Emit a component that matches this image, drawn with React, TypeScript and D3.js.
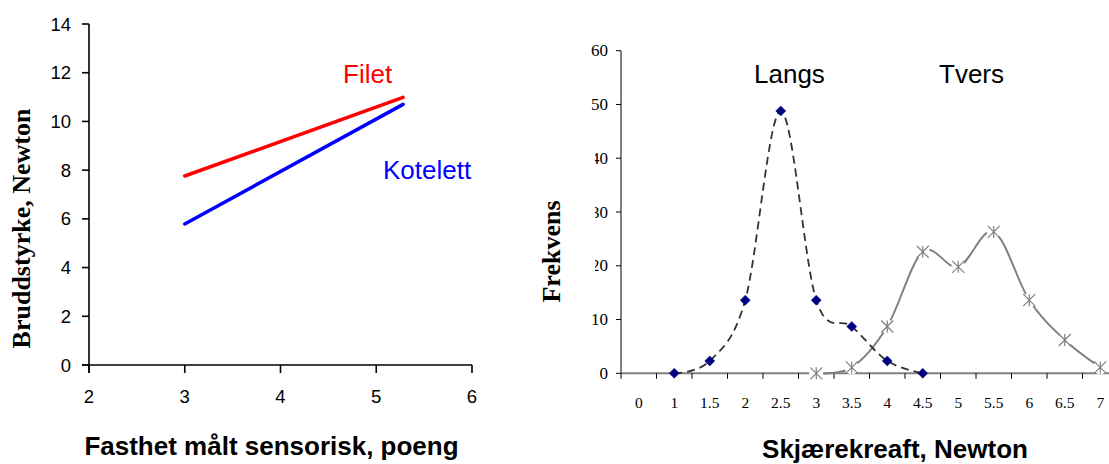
import React from "react";
import * as d3 from "d3";

// ---------- Left chart data ----------
const leftXTicks = [2, 3, 4, 5, 6];
const leftYTicks = [0, 2, 4, 6, 8, 10, 12, 14];
const filetX = [3, 5.28];
const filetY = [7.76, 10.99];
const kotelettX = [3, 5.28];
const kotelettY = [5.79, 10.7];

// ---------- Right chart data ----------
const categories = ["0", "1", "1.5", "2", "2.5", "3", "3.5", "4", "4.5", "5", "5.5", "6", "6.5", "7"];
const rightYTicks = [0, 10, 20, 30, 40, 50, 60];
const langsCats = ["1", "1.5", "2", "2.5", "3", "3.5", "4", "4.5"];
const langsVals = [0, 2.3, 13.6, 48.8, 13.6, 8.7, 2.3, 0];
const tversCats = ["3", "3.5", "4", "4.5", "5", "5.5", "6", "6.5", "7"];
const tversVals = [0, 1.1, 8.7, 22.6, 19.8, 26.3, 13.6, 6.2, 1.1];

const SANS = "'Liberation Sans', Arial, sans-serif";
const SERIF = "'Liberation Serif', 'Times New Roman', serif";

export default function App() {
  // Left scales
  const lx = d3.scaleLinear().domain([2, 6]).range([89, 472]);
  const ly = d3.scaleLinear().domain([0, 14]).range([365, 24]);
  const lline = d3.line<[number, number]>().x((d) => lx(d[0])).y((d) => ly(d[1]));
  const filet = filetX.map((x, i) => [x, filetY[i]] as [number, number]);
  const kotelett = kotelettX.map((x, i) => [x, kotelettY[i]] as [number, number]);

  // Right scales
  const rx = d3.scaleBand<string>().domain(categories).range([621, 621 + 14 * 35.5]).padding(0);
  const bw = rx.bandwidth();
  const cx = (c: string) => (rx(c) as number) + bw / 2;
  const ry = d3.scaleLinear().domain([0, 60]).range([373.3, 50.7]);
  const curve = d3.curveCatmullRom.alpha(0);
  const rline = d3
    .line<[string, number]>()
    .x((d) => cx(d[0]))
    .y((d) => ry(d[1]))
    .curve(curve);
  const langs = langsCats.map((c, i) => [c, langsVals[i]] as [string, number]);
  const tvers = tversCats.map((c, i) => [c, tversVals[i]] as [string, number]);

  const tickBoundaries = d3.range(categories.length).map((i) => (rx(categories[i]) as number));

  return (
    <svg
      width={1109}
      height={464}
      style={{ position: "absolute", left: 0, top: 0, background: "#fff" }}
    >
      <rect x={0} y={0} width={1109} height={464} fill="#fff" />
      {/* ================= LEFT CHART ================= */}
      <g>
        {/* axes */}
        <line x1={lx(2)} x2={lx(2)} y1={ly(14)} y2={ly(0) + 8} stroke="#000" strokeWidth={1.6} />
        <line x1={lx(2) - 7} x2={lx(6)} y1={ly(0)} y2={ly(0)} stroke="#000" strokeWidth={1.6} />
        {leftYTicks.map((t) => (
          <g key={"ly" + t}>
            <line x1={lx(2) - 7} x2={lx(2)} y1={ly(t)} y2={ly(t)} stroke="#000" strokeWidth={1.6} />
            <text x={71} y={ly(t) + 6.5} textAnchor="end" fontFamily={SANS} fontSize={18.5} fill="#000">
              {t}
            </text>
          </g>
        ))}
        {leftXTicks.map((t) => (
          <g key={"lx" + t}>
            <line x1={lx(t)} x2={lx(t)} y1={ly(0)} y2={ly(0) + 8} stroke="#000" strokeWidth={1.6} />
            <text x={lx(t)} y={403} textAnchor="middle" fontFamily={SANS} fontSize={18.5} fill="#000">
              {t}
            </text>
          </g>
        ))}
        {/* lines */}
        <path d={lline(filet) || ""} fill="none" stroke="#ff0000" strokeWidth={3.5} strokeLinecap="round" />
        <path d={lline(kotelett) || ""} fill="none" stroke="#0000ff" strokeWidth={3.5} strokeLinecap="round" />
        <text x={343} y={83} fontFamily={SANS} fontSize={26} fill="#ff0000">Filet</text>
        <text x={383} y={179} fontFamily={SANS} fontSize={26} fill="#0000ff">Kotelett</text>
        {/* titles */}
        <text x={271.5} y={455} textAnchor="middle" fontFamily={SANS} fontWeight="bold" fontSize={26} fill="#000">
          Fasthet målt sensorisk, poeng
        </text>
        <text
          transform={`translate(30, 228.5) rotate(-90)`}
          textAnchor="middle"
          fontFamily={SERIF}
          fontWeight="bold"
          fontSize={26}
          fill="#000"
        >
          Bruddstyrke, Newton
        </text>
      </g>

      {/* ================= RIGHT CHART ================= */}
      <g>
        {/* y axis */}
        <line x1={621} x2={621} y1={ry(60)} y2={ry(0)} stroke="#000" strokeWidth={1} />
        {rightYTicks.map((t) => (
          <g key={"ry" + t}>
            <line x1={616} x2={621} y1={ry(t)} y2={ry(t)} stroke="#000" strokeWidth={1} />
            <text x={608} y={ry(t) + 5.5} textAnchor="end" fontFamily={SERIF} fontSize={17} fill="#000">
              {t}
            </text>
          </g>
        ))}
        {/* clipping artefact over some tick labels */}
        <rect x={578} y={145} width={17} height={130} fill="#fff" />
        {/* x axis */}
        <line x1={621} x2={1109} y1={ry(0)} y2={ry(0)} stroke="#808080" strokeWidth={2} />
        {tickBoundaries.map((x, i) => (
          <line key={"rt" + i} x1={x} x2={x} y1={ry(0)} y2={ry(0) + 5.5} stroke="#000" strokeWidth={1} />
        ))}
        {categories.map((c) => (
          <text key={"rc" + c} x={cx(c)} y={408.3} textAnchor="middle" fontFamily={SERIF} fontSize={15.5} fill="#000">
            {c}
          </text>
        ))}
        {/* series lines */}
        <path d={rline(tvers) || ""} fill="none" stroke="#808080" strokeWidth={2} />
        <path d={rline(langs) || ""} fill="none" stroke="#333" strokeWidth={1.8} strokeDasharray="8,5" />
        {/* Tvers markers with white halo */}
        {tvers.map((d, i) => {
          const x = cx(d[0]);
          const y = ry(d[1]);
          const r = 6;
          const k = r * 0.866;
          return (
            <g key={"tm" + i}>
              <circle cx={x} cy={y} r={7} fill="#fff" />
              <path
                d={`M${x},${y - r}L${x},${y + r}M${x - r},${y - r}L${x + r},${y + r}M${x - r},${y + r}L${x + r},${y - r}`}
                stroke="#808080"
                strokeWidth={1.2}
                fill="none"
              />
            </g>
          );
        })}
        {/* Langs markers */}
        {langs.map((d, i) => {
          const x = cx(d[0]);
          const y = ry(d[1]);
          return (
            <path
              key={"lm" + i}
              d={`M${x},${y - 5}L${x + 5},${y}L${x},${y + 5}L${x - 5},${y}Z`}
              fill="#000080"
              stroke="#000080"
              strokeWidth={0.5}
            />
          );
        })}
        <text x={754} y={83.3} fontFamily={SANS} fontSize={26} fill="#000">Langs</text>
        <text x={939} y={83.3} fontFamily={SANS} fontSize={26} fill="#000">Tvers</text>
        <text x={895} y={458} textAnchor="middle" fontFamily={SANS} fontWeight="bold" fontSize={26} fill="#000">
          Skjærekreaft, Newton
        </text>
        <text
          transform={`translate(560, 251.5) rotate(-90)`}
          textAnchor="middle"
          fontFamily={SERIF}
          fontWeight="bold"
          fontSize={26}
          fill="#000"
        >
          Frekvens
        </text>
      </g>
    </svg>
  );
}
